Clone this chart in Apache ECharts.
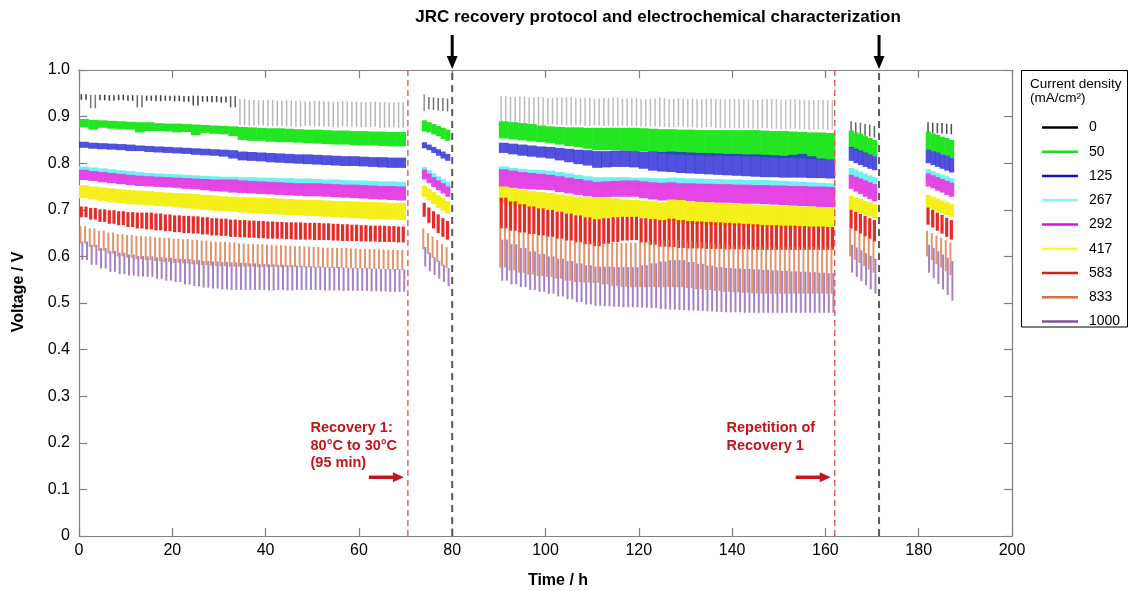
<!DOCTYPE html>
<html>
<head>
<meta charset="utf-8">
<script src="https://cdn.jsdelivr.net/npm/echarts@6/dist/echarts.min.js"></script>
<style>
  html, body { margin: 0; padding: 0; background: #ffffff; }
  #chart { width: 1129px; height: 591px; }
</style>
</head>
<body>
<div id="chart"></div>
<script>
// Sample times in hours: 2 h bins in the long runs, 1 h bins in the short runs
const TIME_H = [
  1, 3, 5, 7, 9, 11, 13, 15, 17, 19, 21, 23, 25, 27, 29, 31, 33, 35, 37, 39, 41, 43, 45, 47, 49, 51, 53, 55, 57, 59, 61, 63, 65, 67, 69,
  74, 75, 76, 77, 78, 79,
  91, 93, 95, 97, 99, 101, 103, 105, 107, 109, 111, 113, 115, 117, 119, 121, 123, 125, 127, 129, 131, 133, 135, 137, 139, 141, 143, 145, 147, 149, 151, 153, 155, 157, 159, 161,
  165.5, 166.5, 167.5, 168.5, 169.5, 170.5,
  182, 183, 184, 185, 186, 187
];

// Current densities (mA/cm2)
const DENSITIES = ['0', '50', '125', '267', '292', '417', '583', '833', '1000'];

// Upper / lower edge of the voltage scatter in each bin, mV
const HI_0 = [
  948, 947, 947, 946, 947, 946, 946, 945, 946, 945, 945, 944, 945, 944, 944, 943, 944, 938, 936, 935, 936, 934, 935, 934, 933, 934, 933, 932, 933, 932, 931, 932, 931, 930, 931,
  948, 942, 941, 940, 940, 939,
  944, 942, 943, 941, 942, 940, 941, 942, 940, 941, 939, 940, 941, 939, 940, 938, 939, 940, 938, 939, 938, 937, 939, 938, 937, 938, 937, 936, 937, 938, 936, 937, 936, 935, 936, 935,
  890, 888, 887, 884, 883, 880,
  888, 887, 886, 886, 885, 884
];
const LO_0 = [
  936, 918, 935, 934, 935, 934, 920, 934, 933, 934, 933, 932, 924, 932, 931, 930, 920, 882, 880, 881, 879, 880, 879, 878, 880, 879, 878, 877, 879, 878, 877, 878, 876, 877, 876,
  912, 915, 914, 913, 912, 911,
  884, 885, 883, 884, 882, 883, 882, 881, 882, 880, 881, 880, 879, 880, 879, 878, 879, 878, 877, 878, 877, 876, 877, 876, 875, 876, 875, 874, 875, 874, 873, 874, 873, 872, 873, 872,
  865, 863, 860, 859, 857, 855,
  866, 865, 864, 864, 863, 862
];
const HI_50 = [
  895, 893, 892, 891, 890, 889, 888, 888, 886, 885, 885, 884, 883, 882, 881, 880, 879, 878, 877, 876, 875, 875, 874, 873, 872, 872, 871, 870, 870, 869, 869, 868, 868, 867, 867,
  892, 888, 884, 880, 876, 872,
  890, 888, 886, 884, 881, 879, 878, 877, 877, 876, 876, 876, 876, 876, 876, 875, 874, 873, 873, 872, 872, 871, 871, 871, 871, 871, 871, 871, 870, 869, 869, 868, 867, 866, 866, 865,
  870, 866, 863, 858, 854, 850,
  868, 864, 861, 857, 854, 850
];
const LO_50 = [
  877, 872, 876, 874, 873, 872, 866, 869, 869, 868, 866, 867, 860, 865, 863, 862, 858, 850, 848, 848, 846, 845, 845, 844, 843, 842, 841, 840, 840, 839, 838, 838, 837, 836, 836,
  868, 866, 862, 858, 852, 848,
  853, 851, 849, 847, 845, 843, 840, 837, 834, 831, 828, 828, 828, 827, 826, 826, 824, 821, 819, 818, 817, 817, 816, 816, 815, 815, 814, 814, 813, 812, 811, 811, 810, 809, 808, 807,
  832, 828, 825, 821, 818, 815,
  830, 826, 822, 819, 815, 812
];
const HI_125 = [
  846, 844, 843, 842, 841, 840, 838, 837, 836, 835, 834, 833, 832, 831, 830, 829, 828, 825, 824, 823, 822, 821, 820, 819, 819, 818, 817, 816, 815, 815, 814, 813, 813, 812, 812,
  845, 840, 835, 830, 825, 820,
  844, 842, 840, 838, 836, 835, 833, 831, 829, 828, 826, 826, 827, 827, 826, 825, 825, 824, 825, 824, 823, 822, 822, 821, 820, 820, 819, 819, 818, 817, 816, 818, 820, 815, 810, 808,
  835, 831, 827, 823, 819, 815,
  830, 826, 823, 819, 816, 812
];
const LO_125 = [
  833, 831, 830, 829, 828, 826, 826, 824, 823, 822, 821, 820, 818, 817, 816, 814, 810, 806, 805, 804, 802, 801, 800, 799, 798, 797, 796, 795, 794, 794, 793, 792, 791, 790, 790,
  832, 828, 822, 816, 810, 805,
  822, 819, 816, 814, 812, 810, 806, 802, 798, 795, 790, 791, 792, 792, 791, 788, 784, 782, 781, 779, 778, 777, 776, 775, 774, 773, 772, 771, 770, 770, 769, 769, 769, 768, 768, 767,
  805, 800, 796, 792, 788, 785,
  800, 796, 792, 788, 784, 780
];
const HI_267 = [
  793, 791, 789, 787, 785, 783, 781, 779, 778, 777, 776, 775, 774, 773, 772, 771, 771, 770, 770, 769, 769, 768, 768, 767, 767, 766, 765, 765, 764, 763, 763, 762, 761, 761, 760,
  792, 785, 778, 772, 766, 760,
  793, 790, 788, 786, 785, 784, 781, 778, 775, 772, 770, 770, 770, 770, 769, 769, 768, 768, 769, 768, 767, 767, 766, 766, 765, 765, 764, 764, 764, 763, 762, 761, 760, 759, 758, 757,
  790, 786, 782, 778, 774, 770,
  787, 783, 779, 776, 772, 768
];
const LO_267 = [
  776, 774, 772, 771, 769, 768, 767, 766, 765, 764, 763, 762, 761, 760, 758, 756, 752, 751, 750, 750, 749, 749, 748, 748, 748, 747, 746, 745, 744, 744, 743, 742, 741, 740, 740,
  772, 765, 758, 752, 746, 740,
  773, 770, 768, 766, 765, 764, 761, 758, 755, 752, 750, 750, 750, 750, 749, 749, 748, 748, 749, 748, 747, 747, 746, 746, 745, 745, 744, 744, 744, 743, 742, 741, 740, 739, 738, 738,
  768, 765, 762, 758, 755, 752,
  765, 762, 758, 755, 751, 748
];
const HI_292 = [
  786, 783, 781, 779, 777, 775, 773, 772, 771, 770, 769, 768, 767, 766, 765, 765, 765, 763, 762, 761, 760, 759, 758, 757, 757, 757, 756, 755, 754, 754, 753, 752, 751, 751, 750,
  786, 778, 770, 763, 757, 750,
  787, 784, 781, 779, 777, 775, 772, 769, 766, 763, 760, 761, 762, 763, 763, 761, 759, 758, 759, 757, 757, 756, 756, 755, 755, 754, 754, 753, 753, 752, 752, 751, 751, 750, 750, 749,
  775, 771, 767, 763, 759, 755,
  778, 774, 770, 766, 762, 758
];
const LO_292 = [
  764, 762, 759, 757, 755, 753, 751, 750, 749, 748, 747, 745, 744, 742, 740, 739, 737, 736, 735, 734, 733, 732, 731, 730, 729, 729, 728, 727, 726, 725, 724, 723, 722, 721, 720,
  765, 757, 749, 742, 735, 728,
  749, 747, 745, 744, 743, 742, 738, 735, 732, 729, 727, 727, 728, 728, 728, 725, 722, 720, 718, 717, 716, 716, 716, 715, 715, 714, 713, 713, 712, 711, 710, 709, 708, 707, 706, 706,
  745, 739, 734, 728, 723, 718,
  750, 746, 741, 737, 732, 728
];
const HI_417 = [
  753, 750, 748, 746, 744, 742, 741, 740, 738, 737, 736, 735, 734, 732, 731, 729, 728, 727, 727, 726, 725, 724, 723, 722, 721, 721, 720, 719, 719, 718, 717, 717, 716, 715, 715,
  752, 745, 738, 731, 725, 719,
  750, 746, 743, 740, 738, 736, 733, 730, 728, 727, 726, 725, 724, 722, 721, 720, 718, 716, 722, 721, 719, 717, 716, 715, 714, 713, 712, 711, 710, 709, 708, 708, 707, 707, 706, 706,
  730, 726, 723, 719, 716, 712,
  732, 728, 724, 720, 716, 712
];
const LO_417 = [
  725, 722, 719, 716, 714, 712, 711, 710, 708, 707, 705, 703, 702, 700, 698, 697, 696, 694, 693, 692, 691, 690, 689, 688, 687, 686, 685, 684, 683, 682, 681, 680, 679, 679, 678,
  728, 720, 712, 704, 698, 692,
  714, 710, 707, 704, 702, 700, 696, 692, 688, 684, 680, 682, 684, 685, 685, 682, 678, 674, 676, 672, 670, 669, 668, 667, 666, 666, 665, 664, 663, 663, 662, 662, 662, 661, 661, 661,
  700, 697, 693, 689, 686, 682,
  705, 701, 697, 693, 689, 685
];
const HI_583 = [
  707, 704, 701, 699, 697, 695, 694, 694, 692, 690, 688, 687, 686, 684, 682, 681, 679, 678, 677, 676, 675, 674, 673, 673, 672, 672, 671, 670, 669, 668, 667, 666, 666, 665, 664,
  715, 705, 697, 690, 682, 676,
  726, 718, 712, 707, 703, 700, 696, 692, 688, 684, 680, 682, 684, 685, 685, 682, 680, 678, 681, 678, 676, 675, 674, 673, 672, 671, 670, 669, 667, 667, 666, 666, 665, 664, 664, 663,
  700, 696, 691, 687, 682, 678,
  705, 700, 694, 689, 683, 678
];
const LO_583 = [
  684, 679, 674, 670, 667, 663, 660, 658, 656, 654, 652, 650, 649, 647, 645, 644, 642, 641, 640, 639, 638, 638, 637, 636, 636, 635, 635, 634, 633, 633, 632, 632, 631, 631, 630,
  685, 672, 660, 650, 642, 636,
  660, 655, 651, 648, 645, 642, 638, 634, 630, 626, 622, 627, 631, 634, 635, 630, 625, 621, 620, 618, 617, 617, 616, 616, 615, 615, 615, 614, 614, 614, 614, 614, 614, 614, 614, 614,
  660, 655, 649, 643, 638, 632,
  668, 662, 655, 649, 642, 636
];
const HI_833 = [
  665, 660, 655, 651, 648, 646, 644, 643, 641, 640, 638, 637, 636, 634, 632, 631, 630, 628, 627, 626, 625, 624, 623, 622, 621, 620, 619, 618, 618, 617, 616, 616, 615, 614, 614,
  660, 650, 642, 635, 627, 620,
  664, 658, 653, 649, 645, 642, 639, 636, 634, 632, 630, 630, 630, 629, 629, 631, 633, 634, 635, 635, 633, 631, 629, 627, 625, 623, 622, 621, 620, 620, 620, 620, 620, 620, 620, 620,
  660, 655, 650, 645, 640, 635,
  655, 650, 645, 640, 635, 630
];
const LO_833 = [
  628, 620, 612, 606, 600, 597, 594, 592, 590, 588, 586, 585, 583, 581, 580, 579, 578, 578, 578, 577, 577, 577, 577, 577, 577, 576, 576, 575, 575, 574, 574, 573, 573, 572, 571,
  615, 605, 597, 588, 580, 575,
  576, 570, 565, 561, 558, 556, 552, 548, 545, 544, 543, 540, 537, 535, 534, 534, 534, 534, 534, 534, 532, 530, 528, 526, 524, 523, 522, 521, 520, 520, 520, 520, 520, 520, 520, 520,
  600, 593, 586, 579, 572, 565,
  600, 592, 584, 576, 568, 560
];
const HI_1000 = [
  632, 625, 618, 612, 608, 604, 601, 600, 598, 597, 595, 594, 592, 590, 589, 588, 587, 586, 585, 584, 583, 582, 581, 580, 579, 578, 577, 577, 576, 575, 575, 574, 573, 573, 572,
  620, 608, 598, 590, 582, 575,
  636, 626, 618, 611, 605, 600, 595, 590, 585, 581, 578, 578, 577, 577, 577, 581, 585, 589, 592, 592, 588, 584, 580, 577, 575, 574, 573, 572, 571, 570, 569, 568, 567, 566, 565, 564,
  625, 619, 613, 607, 601, 595,
  625, 618, 611, 604, 597, 590
];
const LO_1000 = [
  592, 582, 574, 567, 562, 559, 557, 556, 552, 548, 545, 540, 536, 533, 531, 529, 528, 528, 528, 528, 527, 528, 527, 528, 528, 528, 527, 527, 526, 526, 526, 525, 525, 524, 524,
  578, 568, 560, 552, 545, 536,
  548, 540, 534, 528, 524, 520, 514, 508, 502, 497, 494, 493, 492, 491, 491, 490, 489, 487, 486, 485, 484, 483, 482, 481, 480, 480, 479, 479, 479, 479, 479, 479, 479, 479, 479, 479,
  565, 556, 547, 538, 529, 520,
  565, 553, 541, 529, 517, 505
];

const HI_MV = [HI_0, HI_50, HI_125, HI_267, HI_292, HI_417, HI_583, HI_833, HI_1000];
const LO_MV = [LO_0, LO_50, LO_125, LO_267, LO_292, LO_417, LO_583, LO_833, LO_1000];

// Event times (h)
const RECOVERY_T = [70.5, 162];
const CHARACTERIZATION_T = [80, 171.5];

// Axis ticks
const X_TICKS = [0, 20, 40, 60, 80, 100, 120, 140, 160, 180, 200];
const Y_TICKS = [0, 0.1, 0.2, 0.3, 0.4, 0.5, 0.6, 0.7, 0.8, 0.9, 1.0];

const FONT = '"Liberation Sans", Arial, Helvetica, sans-serif';
const LEGEND_COLORS = ['#000000', '#19e019', '#1515b5', '#8af5f5', '#e010e0', '#fafa20', '#e31a1a', '#d2703f', '#7d52a0'];

// How each density band is painted: solid band, or hourly stripes of scattered points
const LOOKS = [
  { mode: 'stripe', color: '#1a1a1a', width: 1.5, offset: 0.5, opacity: null },
  { mode: 'band', color: '#22e622', opacity: 1 },
  { mode: 'band', color: '#2b2bd6', opacity: 0.82 },
  { mode: 'band', color: '#72f0f0', opacity: 1 },
  { mode: 'band', color: '#e43ce4', opacity: 0.95 },
  { mode: 'band', color: '#f5ef1a', opacity: 1 },
  { mode: 'stripe', color: '#e52020', width: 3.2, offset: 0.5, opacity: 0.95 },
  { mode: 'stripe', color: '#da7b4a', width: 2, offset: 0.3, opacity: 0.8 },
  { mode: 'stripe', color: '#9261b3', width: 2, offset: 0.72, opacity: 0.8 }
];

// Width of each bin, from the spacing to its neighbours within the same run
const SPAN_H = TIME_H.map((t, i) => {
  const gaps = [];
  if (i > 0 && t - TIME_H[i - 1] <= 2.5) gaps.push(t - TIME_H[i - 1]);
  if (i < TIME_H.length - 1 && TIME_H[i + 1] - t <= 2.5) gaps.push(TIME_H[i + 1] - t);
  return gaps.length ? Math.min.apply(null, gaps) : 1;
});

function densityRenderer(look) {
  return function (params, api) {
    const i = params.dataIndex;
    const t = api.value(0), lo = api.value(1), hi = api.value(2);
    const top = api.coord([t, hi]);
    const bot = api.coord([t, lo]);
    const spanPx = api.size([SPAN_H[i], 0])[0];
    const x0 = top[0] - spanPx / 2;
    const h = Math.max(bot[1] - top[1], 1.5);
    if (look.mode === 'band') {
      return {
        type: 'rect',
        shape: { x: x0, y: top[1], width: spanPx + 0.5, height: h },
        style: { fill: look.color, opacity: look.opacity }
      };
    }
    // sparse points: a wider spread reads lighter
    const op = look.opacity == null ? Math.min(0.85, 8 / h) : look.opacity;
    const n = Math.max(1, Math.round(SPAN_H[i]));
    const slot = spanPx / n;
    const children = [];
    for (let k = 0; k < n; k++) {
      const cx = x0 + (k + look.offset) * slot;
      children.push({
        type: 'rect',
        shape: { x: cx - look.width / 2, y: top[1], width: look.width, height: h },
        style: { fill: look.color, opacity: op }
      });
    }
    return { type: 'group', children: children };
  };
}

const densitySeries = DENSITIES.map((name, s) => ({
  type: 'custom',
  name: name,
  xAxisIndex: 0,
  yAxisIndex: 0,
  renderItem: densityRenderer(LOOKS[s]),
  data: TIME_H.map((t, i) => [t, LO_MV[s][i] / 1000, HI_MV[s][i] / 1000]),
  encode: { x: 0, y: [1, 2] },
  itemStyle: { color: LEGEND_COLORS[s] },
  clip: true,
  silent: true,
  z: 2 + s
}));

// Dashed event lines with their arrows
const recoverySeries = {
  type: 'custom',
  name: 'recovery',
  silent: true,
  clip: false,
  z: 20,
  data: RECOVERY_T.map(t => [t]),
  renderItem: function (params, api) {
    const t = api.value(0);
    const a = api.coord([t, 0]);
    const b = api.coord([t, 1]);
    const ya = api.coord([t, 0.126])[1];
    return {
      type: 'group',
      children: [
        { type: 'line', shape: { x1: a[0], y1: a[1], x2: b[0], y2: b[1] },
          style: { stroke: '#e05a5a', lineWidth: 1.4, lineDash: [6, 4] } },
        { type: 'line', shape: { x1: a[0] - 39, y1: ya, x2: a[0] - 13, y2: ya },
          style: { stroke: '#c0161c', lineWidth: 3.5 } },
        { type: 'polygon', shape: { points: [[a[0] - 15, ya - 5], [a[0] - 15, ya + 5], [a[0] - 4, ya]] },
          style: { fill: '#c0161c' } }
      ]
    };
  }
};

const characterizationSeries = {
  type: 'custom',
  name: 'characterization',
  silent: true,
  clip: false,
  z: 20,
  data: CHARACTERIZATION_T.map(t => [t]),
  renderItem: function (params, api) {
    const t = api.value(0);
    const a = api.coord([t, 0]);
    const b = api.coord([t, 1]);
    return {
      type: 'group',
      children: [
        { type: 'line', shape: { x1: a[0], y1: a[1], x2: b[0], y2: b[1] },
          style: { stroke: '#5a5a5a', lineWidth: 2, lineDash: [7, 5] } },
        { type: 'line', shape: { x1: b[0], y1: b[1] - 35, x2: b[0], y2: b[1] - 12 },
          style: { stroke: '#000000', lineWidth: 3 } },
        { type: 'polygon', shape: { points: [[b[0] - 5.5, b[1] - 14], [b[0] + 5.5, b[1] - 14], [b[0], b[1] - 1]] },
          style: { fill: '#000000' } }
      ]
    };
  }
};

const axisLineStyle = { color: '#808080', width: 1.2 };
const frameLine = { show: true, onZero: false, lineStyle: axisLineStyle };
const innerTick = { show: true, inside: true, length: 8, lineStyle: axisLineStyle };

const option = {
  animation: false,
  backgroundColor: '#ffffff',
  grid: { left: 79, right: 117, top: 70, bottom: 55, containLabel: false },
  xAxis: [
    {
      type: 'value', position: 'bottom', min: X_TICKS[0], max: X_TICKS[X_TICKS.length - 1], interval: 20,
      axisLine: frameLine, axisTick: innerTick,
      axisLabel: { color: '#000', fontSize: 16, fontFamily: FONT, margin: 7 },
      splitLine: { show: false }
    },
    {
      type: 'value', position: 'top', min: X_TICKS[0], max: X_TICKS[X_TICKS.length - 1], interval: 20,
      axisLine: frameLine, axisTick: innerTick,
      axisLabel: { show: false },
      splitLine: { show: false }
    }
  ],
  yAxis: [
    {
      type: 'value', position: 'left', min: Y_TICKS[0], max: Y_TICKS[Y_TICKS.length - 1], interval: 0.1,
      axisLine: frameLine, axisTick: innerTick,
      axisLabel: {
        color: '#000', fontSize: 16, fontFamily: FONT, margin: 9,
        formatter: v => (Math.abs(v) < 1e-9 ? '0' : v.toFixed(1))
      },
      splitLine: { show: false }
    },
    {
      type: 'value', position: 'right', min: Y_TICKS[0], max: Y_TICKS[Y_TICKS.length - 1], interval: 0.1,
      axisLine: frameLine, axisTick: innerTick,
      axisLabel: { show: false },
      splitLine: { show: false }
    }
  ],
  legend: {
    orient: 'vertical',
    left: 1037,
    top: 114.5,
    itemWidth: 36,
    itemHeight: 2.5,
    itemGap: 8.25,
    icon: 'rect',
    selectedMode: false,
    textStyle: { color: '#000', fontSize: 14, fontFamily: FONT, lineHeight: 16, padding: [0, 0, 0, 6] },
    data: DENSITIES.map((name, s) => ({ name: name, itemStyle: { color: LEGEND_COLORS[s], opacity: 1 } }))
  },
  graphic: [
    { type: 'text', x: 658, y: 17, silent: true,
      style: { text: 'JRC recovery protocol and electrochemical characterization', fill: '#000',
               font: 'bold 17px ' + FONT, align: 'center', verticalAlign: 'middle' } },
    { type: 'text', x: 19, y: 292, rotation: Math.PI / 2, silent: true,
      style: { text: 'Voltage / V', fill: '#000', font: 'bold 16px ' + FONT, align: 'center', verticalAlign: 'middle' } },
    { type: 'text', x: 558, y: 581, silent: true,
      style: { text: 'Time / h', fill: '#000', font: 'bold 16px ' + FONT, align: 'center', verticalAlign: 'middle' } },
    { type: 'text', x: 310.5, y: 419.5, silent: true,
      style: { text: 'Recovery 1:\n80°C to 30°C\n(95 min)', fill: '#c0161c', font: 'bold 14.5px ' + FONT,
               lineHeight: 17.5, align: 'left', verticalAlign: 'top' } },
    { type: 'text', x: 726.5, y: 418.5, silent: true,
      style: { text: 'Repetition of\nRecovery 1', fill: '#c0161c', font: 'bold 14.5px ' + FONT,
               lineHeight: 18.4, align: 'left', verticalAlign: 'top' } },
    { type: 'rect', shape: { x: 1021.5, y: 70.5, width: 106, height: 256.5 }, silent: true,
      style: { fill: 'none', stroke: '#000', lineWidth: 1 } },
    { type: 'text', x: 1030, y: 77, silent: true,
      style: { text: 'Current density\n(mA/cm²)', fill: '#000', font: '13.5px ' + FONT,
               lineHeight: 14, align: 'left', verticalAlign: 'top' } }
  ],
  series: densitySeries.concat([recoverySeries, characterizationSeries])
};

const chart = echarts.init(document.getElementById('chart'), null, { renderer: 'canvas' });
chart.setOption(option);
</script>
</body>
</html>
